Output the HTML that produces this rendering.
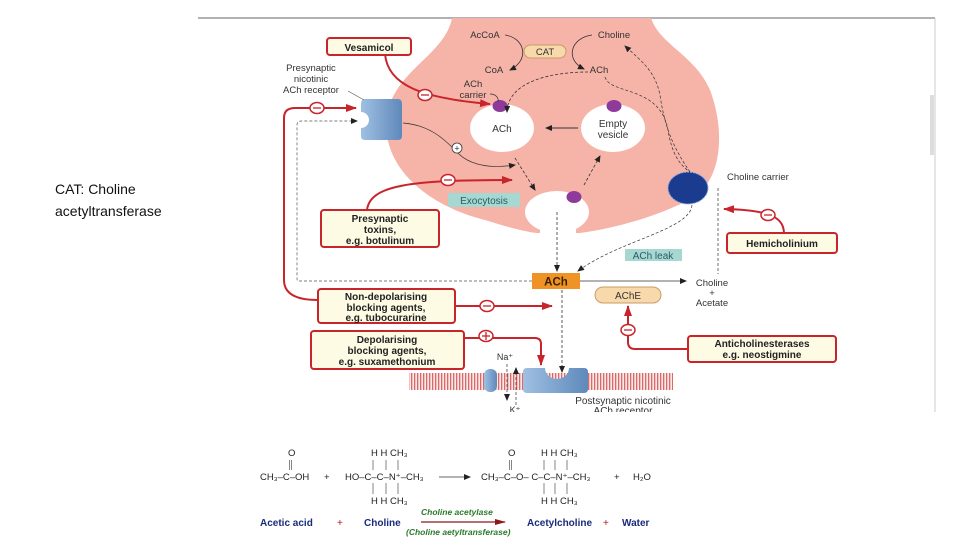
<!DOCTYPE html>
<html><head><meta charset="utf-8"><style>
body{margin:0;background:#fff;width:960px;height:540px;overflow:hidden;font-family:"Liberation Sans",sans-serif}
.cap{position:absolute;left:55px;top:178px;font-size:14px;line-height:22px;color:#111}
svg{position:absolute;left:0;top:0}
</style></head><body>
<div class="cap">CAT: Choline<br>acetyltransferase</div>
<svg width="960" height="540" viewBox="0 0 960 540" font-family="Liberation Sans, sans-serif">
<defs>
<marker id="ak" markerWidth="8" markerHeight="8" refX="6" refY="3" orient="auto" markerUnits="userSpaceOnUse"><path d="M0,0 L7,3 L0,6 Z" fill="#222"/></marker>
<marker id="ar" markerWidth="12" markerHeight="10" refX="10" refY="4" orient="auto" markerUnits="userSpaceOnUse"><path d="M0,0 L11,4 L0,8 Z" fill="#c8242b"/></marker>
<marker id="am" markerWidth="12" markerHeight="10" refX="10" refY="3" orient="auto" markerUnits="userSpaceOnUse"><path d="M0,0 L11,3 L0,6 Z" fill="#8a1a1a"/></marker>
<linearGradient id="bl" x1="0" x2="1"><stop offset="0" stop-color="#9fc0e2"/><stop offset="1" stop-color="#5f89bb"/></linearGradient>
<pattern id="hat" width="3" height="17" patternUnits="userSpaceOnUse"><rect width="3" height="17" fill="#fbe7e7"/><rect width="1.3" height="17" fill="#d86a6a"/></pattern>
</defs>
<line x1="198" y1="18" x2="935" y2="18" stroke="#999" stroke-width="1.5"/>
<line x1="935" y1="18" x2="935" y2="412" stroke="#ccc" stroke-width="1"/>
<rect x="930" y="95" width="4" height="60" fill="#ddd"/>
<path d="M452,18 C445,55 395,70 387,115 C380,165 425,205 485,220 C510,228 528,232 537,233 L580,233 C620,228 670,212 697,195 C722,175 725,130 710,90 C695,55 660,45 651,18 Z" fill="#f6b3a8"/>
<ellipse cx="557" cy="212" rx="32" ry="21" fill="#fff"/>
<rect x="540" y="212" width="36" height="24" fill="#fff"/>
<ellipse cx="502" cy="128" rx="32" ry="24" fill="#fff"/>
<ellipse cx="613" cy="128" rx="32" ry="24" fill="#fff"/>
<ellipse cx="500" cy="106" rx="7.5" ry="6" fill="#8e3a9a"/>
<ellipse cx="614" cy="106" rx="7.5" ry="6" fill="#8e3a9a"/>
<ellipse cx="574" cy="197" rx="7.5" ry="6" fill="#8e3a9a"/>
<text x="502" y="132" font-size="10" text-anchor="middle" fill="#333">ACh</text>
<text x="613" y="127" font-size="10" text-anchor="middle" fill="#333">Empty</text>
<text x="613" y="138" font-size="10" text-anchor="middle" fill="#333">vesicle</text>
<line x1="578" y1="128" x2="546" y2="128" stroke="#333" stroke-width="1" marker-end="url(#ak)"/>
<text x="485" y="38" font-size="9.5" text-anchor="middle" fill="#333">AcCoA</text>
<text x="614" y="38" font-size="9.5" text-anchor="middle" fill="#333">Choline</text>
<text x="494" y="73" font-size="9.5" text-anchor="middle" fill="#333">CoA</text>
<text x="599" y="73" font-size="9.5" text-anchor="middle" fill="#333">ACh</text>
<rect x="524" y="45" width="42" height="13" rx="6.5" fill="#f8d9ac" stroke="#c99b66"/>
<text x="545" y="55" font-size="9.5" text-anchor="middle" fill="#333">CAT</text>
<path d="M505,35 C525,38 530,60 510,70" fill="none" stroke="#333" stroke-width="0.8" marker-end="url(#ak)"/>
<path d="M592,35 C570,38 565,60 584,69" fill="none" stroke="#333" stroke-width="0.8" marker-end="url(#ak)"/>
<text x="473" y="87" font-size="9.5" text-anchor="middle" fill="#333">ACh</text>
<text x="473" y="98" font-size="9.5" text-anchor="middle" fill="#333">carrier</text>
<path d="M490,94 C496,94 499,98 498,102" fill="none" stroke="#333" stroke-width="0.7"/>
<path d="M588,72 C555,72 508,80 507,112" fill="none" stroke="#333" stroke-width="0.8" stroke-dasharray="3,2" marker-end="url(#ak)"/>
<path d="M605,77 C610,95 660,85 668,130 C672,155 680,165 690,172" fill="none" stroke="#333" stroke-width="0.7" stroke-dasharray="3,2"/>
<path d="M690,172 C675,150 665,130 660,95 C655,70 640,60 625,46" fill="none" stroke="#333" stroke-width="0.7" stroke-dasharray="3,2" marker-end="url(#ak)"/>
<path d="M515,158 L535,190" fill="none" stroke="#333" stroke-width="0.8" stroke-dasharray="3,2" marker-end="url(#ak)"/>
<path d="M584,185 L600,156" fill="none" stroke="#333" stroke-width="0.8" stroke-dasharray="3,2" marker-end="url(#ak)"/>
<path d="M403,123 C430,125 445,140 455,150 C470,168 495,168 515,165" fill="none" stroke="#333" stroke-width="0.7" marker-end="url(#ak)"/>
<circle cx="457" cy="148" r="5" fill="#fff" stroke="#333" stroke-width="0.8"/>
<text x="457" y="151.5" font-size="9" text-anchor="middle" fill="#333">+</text>
<rect x="448" y="193" width="72" height="14" fill="#a6d8d1"/>
<text x="484" y="204" font-size="10" text-anchor="middle" fill="#2a5c66">Exocytosis</text>
<ellipse cx="688" cy="188" rx="20" ry="16" fill="#1b3c8e" stroke="#8fb0e0" stroke-dasharray="2,1"/>
<text x="727" y="180" font-size="9.5" fill="#333">Choline carrier</text>
<path d="M692,205 C690,230 620,240 578,271" fill="none" stroke="#333" stroke-width="0.7" stroke-dasharray="3,2" marker-end="url(#ak)"/>
<line x1="718" y1="188" x2="718" y2="274" stroke="#333" stroke-width="0.7" stroke-dasharray="3,2"/>
<rect x="625" y="249" width="57" height="12" fill="#a6d8d1"/>
<text x="653" y="259" font-size="10" text-anchor="middle" fill="#2a5c66">ACh leak</text>
<path d="M365,99 L398,99 Q402,99 402,104 L402,136 Q402,140 398,140 L365,140 Q361,140 361,136 L361,128 A8,8 0 0 0 361,112 L361,104 Q361,99 365,99 Z" fill="url(#bl)"/>
<text x="311" y="71" font-size="9.5" text-anchor="middle" fill="#333">Presynaptic</text>
<text x="311" y="82" font-size="9.5" text-anchor="middle" fill="#333">nicotinic</text>
<text x="311" y="93" font-size="9.5" text-anchor="middle" fill="#333">ACh receptor</text>
<line x1="348" y1="91" x2="364" y2="100" stroke="#555" stroke-width="0.6"/>
<line x1="557" y1="212" x2="557" y2="271" stroke="#333" stroke-width="0.8" stroke-dasharray="3,2" marker-end="url(#ak)"/>
<rect x="532" y="273" width="48" height="16" fill="#ef9326"/>
<text x="556" y="285.5" font-size="11.5" font-weight="bold" text-anchor="middle" fill="#3a2000">ACh</text>
<line x1="580" y1="281" x2="686" y2="281" stroke="#333" stroke-width="0.8" marker-end="url(#ak)"/>
<text x="712" y="286" font-size="9.5" text-anchor="middle" fill="#333">Choline</text>
<text x="712" y="296" font-size="9.5" text-anchor="middle" fill="#333">+</text>
<text x="712" y="306" font-size="9.5" text-anchor="middle" fill="#333">Acetate</text>
<path d="M532,281 L298,281 Q297,281 297,278 L297,125 Q297,121 301,121 L357,121" fill="none" stroke="#555" stroke-width="0.7" stroke-dasharray="3,2" marker-end="url(#ak)"/>
<rect x="595" y="287" width="66" height="16" rx="8" fill="#f8d9ac" stroke="#c99b66"/>
<text x="628" y="299" font-size="10" text-anchor="middle" fill="#333">AChE</text>
<line x1="562" y1="290" x2="562" y2="372" stroke="#333" stroke-width="0.8" stroke-dasharray="3,2" marker-end="url(#ak)"/>
<rect x="409" y="373" width="264" height="17" fill="url(#hat)"/>
<rect x="484" y="369" width="13" height="23" rx="6" fill="url(#bl)"/>
<path d="M527,368 L545,368 A12,11 0 0 0 569,368 L584,368 Q588,368 588,372 L588,389 Q588,393 584,393 L527,393 Q523,393 523,389 L523,372 Q523,368 527,368 Z" fill="url(#bl)"/>
<text x="505" y="360" font-size="9" text-anchor="middle" fill="#333">Na⁺</text>
<text x="515" y="413" font-size="9" text-anchor="middle" fill="#333">K⁺</text>
<line x1="507" y1="364" x2="507" y2="400" stroke="#333" stroke-width="0.7" stroke-dasharray="3,2" marker-end="url(#ak)"/>
<line x1="516" y1="405" x2="516" y2="368" stroke="#333" stroke-width="0.7" stroke-dasharray="3,2" marker-end="url(#ak)"/>
<text x="623" y="404" font-size="10" text-anchor="middle" fill="#333">Postsynaptic nicotinic</text>
<text x="623" y="414" font-size="10" text-anchor="middle" fill="#333">ACh receptor</text>
<rect x="240" y="412" width="700" height="8" fill="#fff"/>
<g fill="none" stroke="#c8242b" stroke-width="2">
<path d="M385,54 C388,85 420,98 490,104" marker-end="url(#ar)"/>
<path d="M367,210 C370,185 410,180 512,180" marker-end="url(#ar)"/>
<path d="M318,300 Q284,300 284,280 L284,118 Q284,108 295,108 L356,108" marker-end="url(#ar)"/>
<path d="M455,306 L552,306" marker-end="url(#ar)"/>
<path d="M464,338 L535,338 Q541,338 541,344 L541,365" marker-end="url(#ar)"/>
<path d="M693,349 L635,349 Q628,349 628,342 L628,306" marker-end="url(#ar)"/>
<path d="M784,234 C784,218 772,210 724,209" marker-end="url(#ar)"/>
</g>
<g fill="#fff" stroke="#c8242b" stroke-width="1.5">
<ellipse cx="425" cy="95" rx="7" ry="5.5"/><ellipse cx="448" cy="180" rx="7" ry="5.5"/>
<ellipse cx="317" cy="108" rx="7" ry="5.5"/><ellipse cx="487" cy="306" rx="7" ry="5.5"/>
<ellipse cx="486" cy="336" rx="7" ry="5.5"/><ellipse cx="628" cy="330" rx="7" ry="5.5"/>
<ellipse cx="768" cy="215" rx="7" ry="5.5"/>
</g>
<g stroke="#c8242b" stroke-width="1.3">
<line x1="421" y1="95" x2="429" y2="95"/><line x1="444" y1="180" x2="452" y2="180"/>
<line x1="313" y1="108" x2="321" y2="108"/><line x1="483" y1="306" x2="491" y2="306"/>
<line x1="482" y1="336" x2="490" y2="336"/><line x1="486" y1="332" x2="486" y2="340"/>
<line x1="624" y1="330" x2="632" y2="330"/><line x1="764" y1="215" x2="772" y2="215"/>
</g>
<g fill="#fdfbe4" stroke="#c8242b" stroke-width="2">
<rect x="327" y="38" width="84" height="17" rx="3"/>
<rect x="321" y="210" width="118" height="37" rx="3"/>
<rect x="318" y="289" width="137" height="34" rx="3"/>
<rect x="311" y="331" width="153" height="38" rx="3"/>
<rect x="727" y="233" width="110" height="20" rx="3"/>
<rect x="688" y="336" width="148" height="26" rx="3"/>
</g>
<g font-size="10" font-weight="bold" text-anchor="middle" fill="#222">
<text x="369" y="51">Vesamicol</text>
<text x="380" y="222">Presynaptic</text><text x="380" y="233">toxins,</text><text x="380" y="244">e.g. botulinum</text>
<text x="386" y="300">Non-depolarising</text><text x="386" y="311">blocking agents,</text><text x="386" y="321">e.g. tubocurarine</text>
<text x="387" y="343">Depolarising</text><text x="387" y="354">blocking agents,</text><text x="387" y="365">e.g. suxamethonium</text>
<text x="782" y="247">Hemicholinium</text>
<text x="762" y="347">Anticholinesterases</text><text x="762" y="358">e.g. neostigmine</text>
</g>
<g font-size="9.5" fill="#222">
<text x="288" y="456">O</text>
<text x="371" y="456">H  H  CH₃</text>
<text x="508" y="456">O</text>
<text x="541" y="456">H H  CH₃</text>
<text x="260" y="480">CH₃–C–OH</text>
<text x="324" y="480">+</text>
<text x="345" y="480">HO–C–C–N⁺–CH₃</text>
<text x="481" y="480">CH₃–C–O– C–C–N⁺–CH₃</text>
<text x="614" y="480">+</text>
<text x="633" y="480">H₂O</text>
<text x="371" y="504">H H  CH₃</text>
<text x="541" y="504">H  H CH₃</text>
</g>
<g stroke="#666" stroke-width="0.8">
<line x1="289.5" y1="460" x2="289.5" y2="470"/><line x1="291.5" y1="460" x2="291.5" y2="470"/>
<line x1="509.5" y1="460" x2="509.5" y2="470"/><line x1="511.5" y1="460" x2="511.5" y2="470"/>
<line x1="373" y1="460" x2="373" y2="470"/><line x1="386" y1="460" x2="386" y2="470"/><line x1="398" y1="460" x2="398" y2="470"/>
<line x1="373" y1="483" x2="373" y2="494"/><line x1="386" y1="483" x2="386" y2="494"/><line x1="398" y1="483" x2="398" y2="494"/>
<line x1="544" y1="460" x2="544" y2="470"/><line x1="555" y1="460" x2="555" y2="470"/><line x1="567" y1="460" x2="567" y2="470"/>
<line x1="544" y1="483" x2="544" y2="494"/><line x1="555" y1="483" x2="555" y2="494"/><line x1="567" y1="483" x2="567" y2="494"/>
</g>
<line x1="439" y1="477" x2="470" y2="477" stroke="#333" stroke-width="0.8" marker-end="url(#ak)"/>
<g font-size="10" font-weight="bold" fill="#1a2a7a">
<text x="260" y="526">Acetic acid</text>
<text x="364" y="526">Choline</text>
<text x="527" y="526">Acetylcholine</text>
<text x="622" y="526">Water</text>
</g>
<text x="337" y="526" font-size="10" fill="#b02020">+</text>
<text x="603" y="526" font-size="10" fill="#b02020">+</text>
<line x1="421" y1="522" x2="505" y2="522" stroke="#8a1a1a" stroke-width="1.2" marker-end="url(#am)"/>
<text x="421" y="515" font-size="8.5" font-style="italic" font-weight="bold" fill="#2a7a2a">Choline acetylase</text>
<text x="406" y="535" font-size="8.5" font-style="italic" font-weight="bold" fill="#2a7a2a">(Choline aetyltransferase)</text>
</svg>
</body></html>
